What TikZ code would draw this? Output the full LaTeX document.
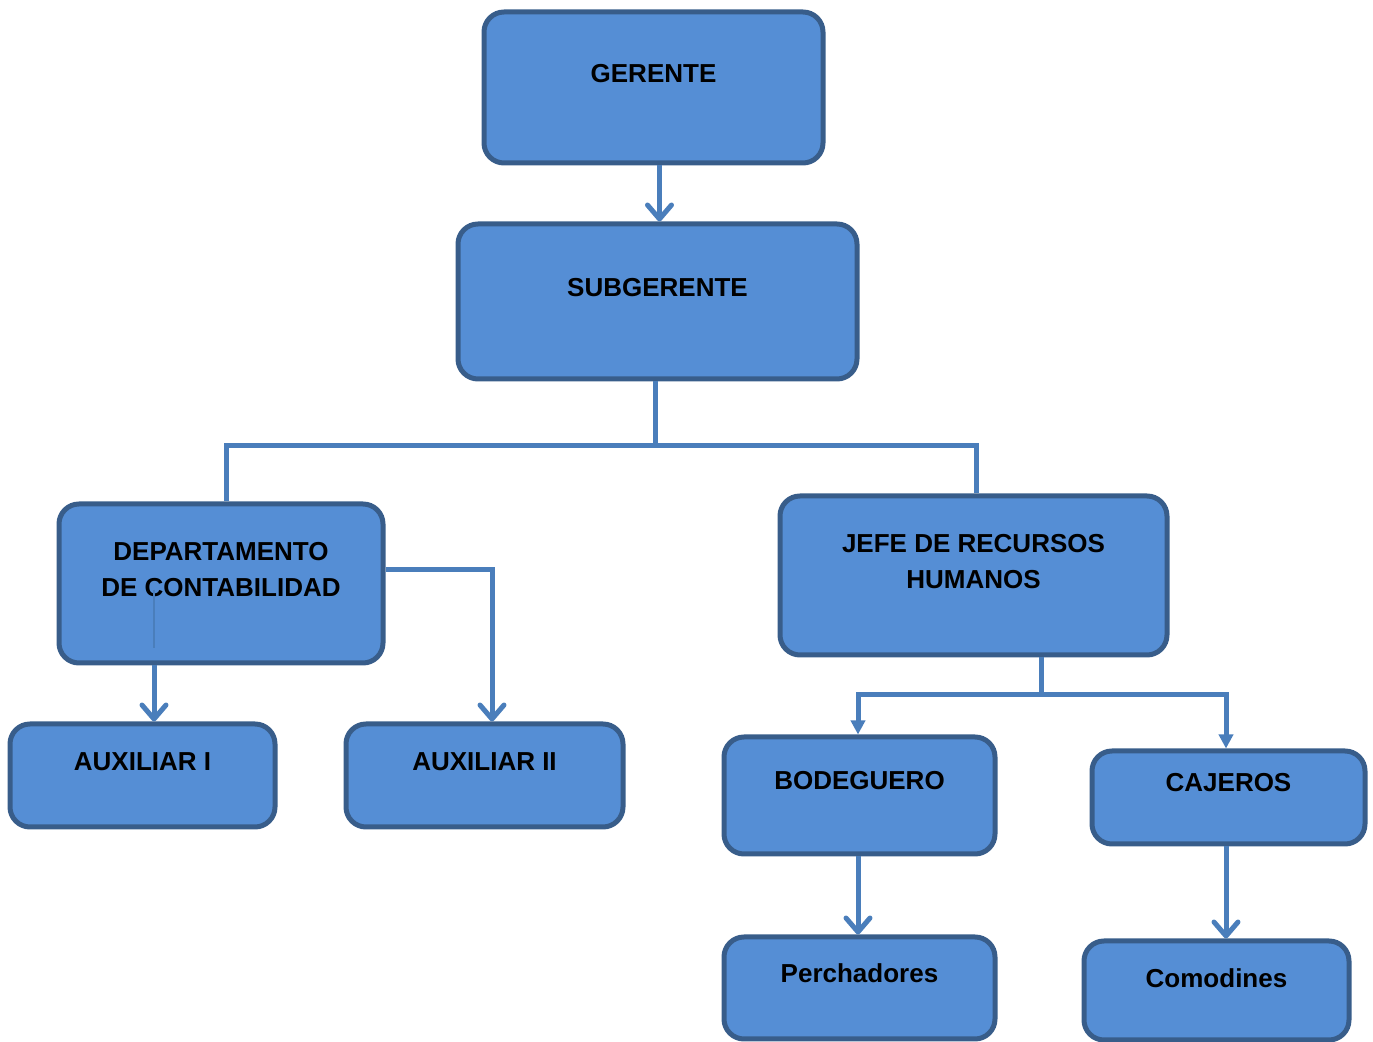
\documentclass[tikz,border=0pt]{standalone}
\usepackage{fontspec}
\setmainfont{Liberation Sans}
\usetikzlibrary{arrows.meta}
\definecolor{cajaazul}{RGB}{85,142,213}
\definecolor{bordeazul}{RGB}{56,93,138}
\definecolor{lineaazul}{RGB}{74,126,187}

\begin{document}
\begin{tikzpicture}[x=0.5pt, y=-0.5pt,
    caja/.style={draw=bordeazul, fill=cajaazul, line width=2.5pt, rounded corners=10pt, inner sep=0pt},
    texto/.style={anchor=center, align=center, font=\bfseries\fontsize{13}{18}\selectfont},
    linea/.style={draw=lineaazul, line width=2.5pt},
    flecha/.style={linea, -{Straight Barb[length=7pt, width=12pt, round]}},
    flechallena/.style={linea, -{Triangle[length=7pt, width=7pt]}}]
  \useasboundingbox (0,0) rectangle (1373,1042);

  \node[caja, minimum width=169.5pt, minimum height=75.5pt,
    label={[texto, yshift=-32pt]above:GERENTE}] (gerente) at (653.5,87.5) {};
  \node[caja, minimum width=199.5pt, minimum height=77.5pt,
    label={[texto, yshift=-33pt]above:SUBGERENTE}] (subgerente) at (657.5,301.5) {};
  \node[caja, minimum width=162pt, minimum height=79.5pt,
    label={[texto, yshift=-34pt]above:DEPARTAMENTO\\DE CONTABILIDAD}] (contabilidad) at (221,583.5) {};
  \node[caja, minimum width=193.5pt, minimum height=79.5pt,
    label={[texto, yshift=-34pt]above:JEFE DE RECURSOS\\HUMANOS}] (rrhh) at (973.5,575.5) {};
  \node[caja, minimum width=132.5pt, minimum height=51.5pt,
    label={[texto, yshift=-20pt]above:AUXILIAR I}] (auxuno) at (142.5,775.5) {};
  \node[caja, minimum width=138.5pt, minimum height=51.5pt,
    label={[texto, yshift=-20pt]above:AUXILIAR II}] (auxdos) at (484.5,775.5) {};
  \node[caja, minimum width=135.5pt, minimum height=58.5pt,
    label={[texto, yshift=-23pt]above:BODEGUERO}] (bodeguero) at (859.5,795.5) {};
  \node[caja, minimum width=136.5pt, minimum height=46.5pt,
    label={[texto, yshift=-17pt]above:CAJEROS}] (cajeros) at (1228.5,797.5) {};
  \node[caja, minimum width=135.5pt, minimum height=51pt,
    label={[texto, yshift=-19.5pt]above:Perchadores}] (perchadores) at (859.5,988) {};
  \node[caja, minimum width=132.5pt, minimum height=49.5pt,
    label={[texto, yshift=-20pt]above:Comodines}] (comodines) at (1216.5,990.5) {};

  \draw[flecha] ([xshift=3pt]gerente.south) -- ([xshift=3pt]gerente.south |- subgerente.north);

  \draw[linea] ([xshift=-1.25pt]subgerente.south) -- ++(0,-32pt) coordinate (ramal);
  \draw[linea] (ramal) -| ([xshift=2.5pt]contabilidad.north);
  \draw[linea] (ramal) -| ([xshift=1.25pt]rrhh.north);

  \draw[lineaazul, line width=0.8pt] ([xshift=5.75pt]auxuno.north |- contabilidad.center) ++(0,-3.25pt) -- ++(0,-29pt);
  \draw[flecha] ([xshift=5.75pt]auxuno.north |- contabilidad.south) -- ([xshift=5.75pt]auxuno.north);
  \draw[flecha] ([yshift=6.75pt]contabilidad.east) -| ([xshift=3.75pt]auxdos.north);

  \draw[linea] ([xshift=33.75pt]rrhh.south) -- ++(0,-18.5pt) coordinate (ramaldos);
  \draw[flechallena] (ramaldos) -| ([xshift=-0.75pt]bodeguero.north);
  \draw[flechallena] (ramaldos) -| ([xshift=-1.25pt]cajeros.north);

  \draw[flecha] ([xshift=-0.75pt]bodeguero.south) -- ([xshift=-0.75pt]perchadores.north);
  \draw[flecha] ([xshift=-1.25pt]cajeros.south) -- ([xshift=-1.25pt]cajeros.south |- comodines.north);
\end{tikzpicture}
\end{document}
